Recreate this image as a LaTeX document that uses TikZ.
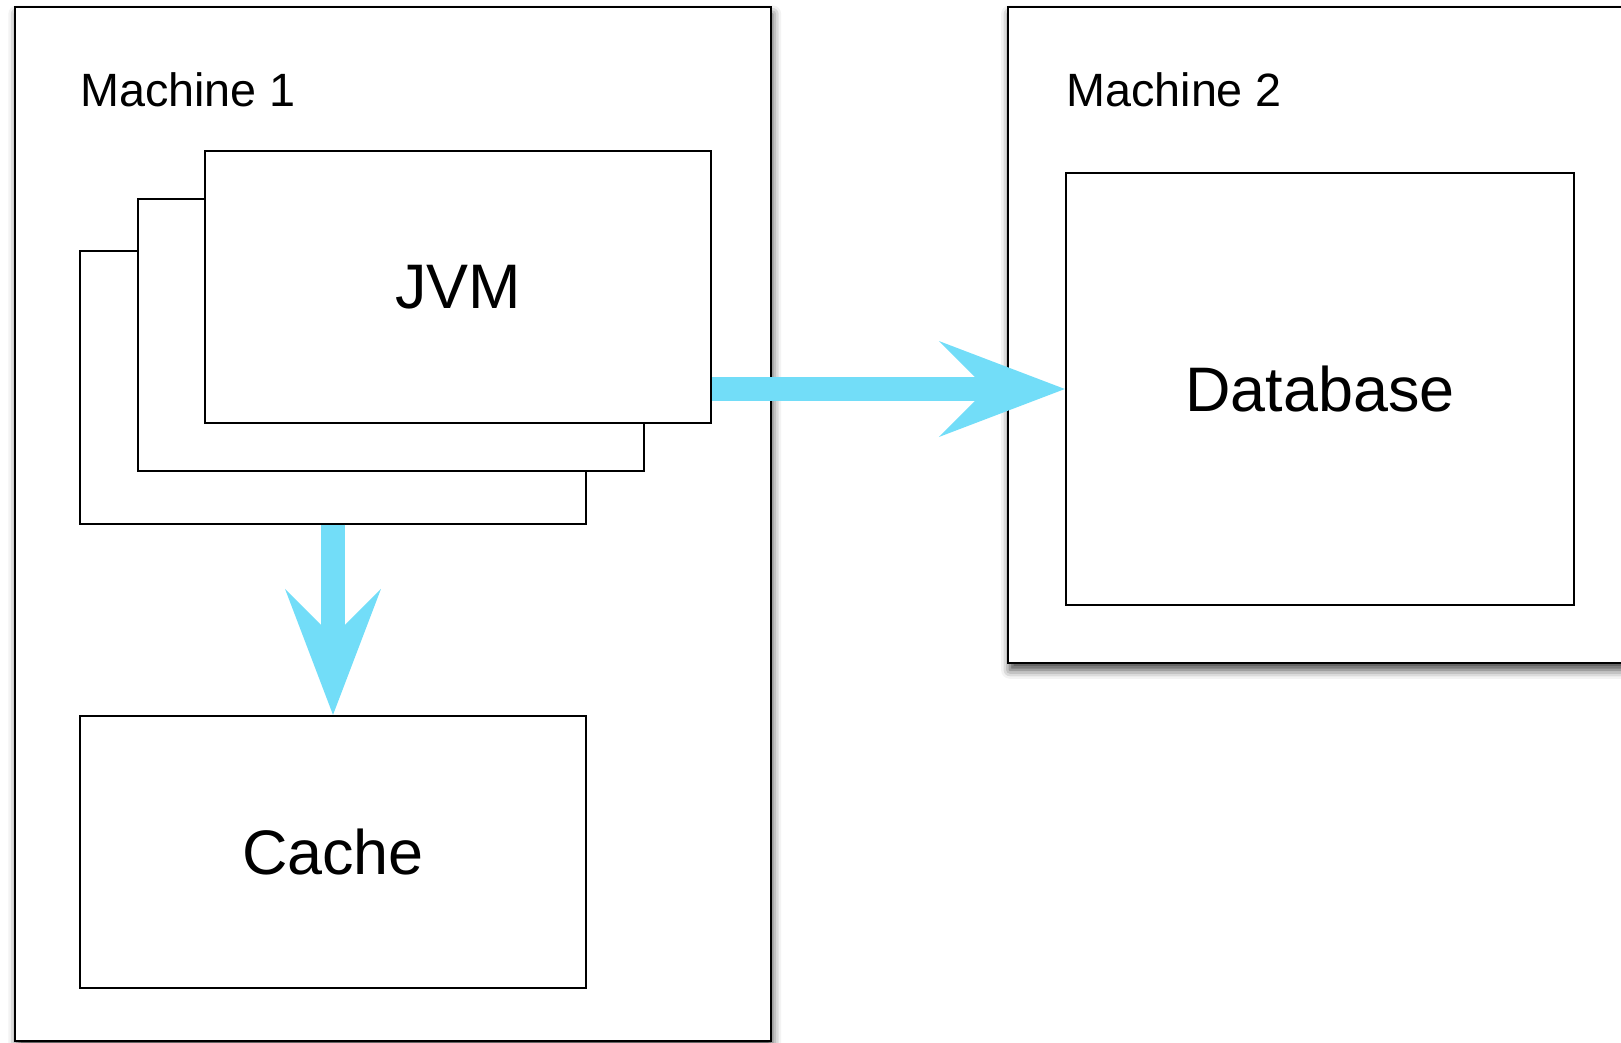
\documentclass[tikz,border=0pt]{standalone}
\usepackage{fontspec}
\setmainfont{Liberation Sans}
\usetikzlibrary{
		arrows.meta,
		shadows.blur
	}
\definecolor{flowblue}{RGB}{114,221,248}
\tikzset{
		>=stealth,
		machine/.style={draw, fill=white, line width=1.1pt, inner sep=0pt,
			blur shadow={shadow xshift=1pt, shadow yshift=-4pt, shadow blur radius=5pt, shadow opacity=75}},
		box/.style={draw, fill=white, line width=1.1pt, inner sep=0pt,
			minimum width=10.14cm, minimum height=5.45cm,
			font=\fontsize{35.8}{40}\selectfont},
		caption/.style={anchor=base west, inner sep=0pt,
			font=\fontsize{26.6}{30}\selectfont},
		flow/.style={draw=flowblue, line width=13.6pt,
			-{Stealth[length=2.52cm, width=1.92cm, inset=0.96cm, line width=0pt, fill=flowblue]}}
	}

\begin{document}
\begin{tikzpicture}[x=0.02cm, y=-0.02cm]
    \useasboundingbox (0,0) rectangle (1621,1042);

    % the two machines
    \node[machine, minimum width=15.11cm, minimum height=20.68cm] (m1) at (393,524) {};
    \node[machine, minimum width=13.04cm, minimum height=13.12cm] (m2) at (1334,335) {};

    % the texts
    \node[caption] (m1label) at (80,106.5) {Machine 1};
    \node[caption] (m2label) at (1066,106.5) {Machine 2};

    % the stack of JVMs, back to front
    \node[box] (jvm3) at (333,387.5) {};
    \node[box] (jvm2) at (391,335) {};
    \node[box] (jvm1) at (458,287) {JVM};

    \node[box] (cache) at (333,852) {Cache};
    \node[box, minimum width=10.17cm, minimum height=8.65cm] (db) at (1320,389) {Database};

    % draw the arrows
    \draw[flow] (jvm1.east |- db.west) -- (db.west);

    \draw[flow] (jvm3.south) -- (cache.north);

\end{tikzpicture}
\end{document}
